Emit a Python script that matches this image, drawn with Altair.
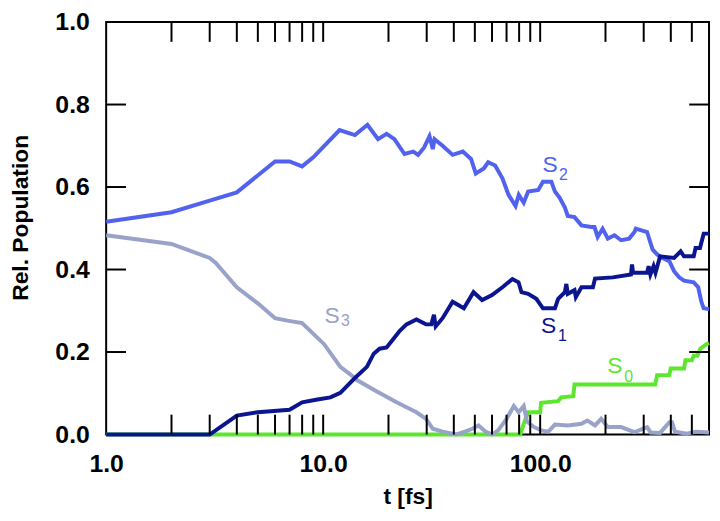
import altair as alt
import pandas as pd

# ---------------- data ----------------
s2_t = [1, 2, 3, 4, 6, 7, 8, 9, 11.9, 14, 16, 17.9, 19.6, 21.3, 23.7, 26, 27.4, 29.2,
        30.9, 32, 32.6, 35.5, 39.5, 44, 48, 50.5, 55, 57.6, 62, 67, 71.5, 77, 79.7, 84,
        88, 98, 103, 112.6, 117, 123, 130, 134, 144, 155, 172, 178, 184, 194, 205, 220,
        236, 257, 272, 276, 311, 323, 330, 347, 366, 394, 414, 437, 460, 510, 535, 553,
        567, 600]
s2_v = [0.516, 0.539, 0.567, 0.587, 0.662, 0.662, 0.650, 0.672, 0.738, 0.726, 0.751,
        0.716, 0.729, 0.716, 0.680, 0.686, 0.678, 0.696, 0.723, 0.692, 0.716, 0.700,
        0.678, 0.686, 0.668, 0.633, 0.645, 0.660, 0.652, 0.621, 0.581, 0.554, 0.581,
        0.562, 0.589, 0.593, 0.613, 0.613, 0.589, 0.574, 0.550, 0.530, 0.527, 0.507,
        0.503, 0.503, 0.479, 0.499, 0.475, 0.483, 0.471, 0.475, 0.491, 0.499, 0.491,
        0.463, 0.448, 0.436, 0.428, 0.420, 0.396, 0.381, 0.373, 0.369, 0.357, 0.322,
        0.306, 0.304]

s1_t = [1, 3, 4, 5, 7, 8, 9.4, 10.8, 12, 14, 15.9, 17.1, 18.2, 19.6, 21.1, 22.5, 24.2,
        26.9, 29.8, 31.5, 32.4, 33, 35.5, 39.5, 44.5, 49.3, 54, 60, 67, 74.5, 79.5, 82,
        88, 96, 103, 117, 121, 130, 132, 134, 144, 146, 155, 175, 179, 216, 262, 265,
        268, 311, 316, 322, 333, 340, 357, 414, 444, 460, 510, 520, 545, 567, 600]
s1_v = [0, 0, 0.046, 0.054, 0.060, 0.078, 0.085, 0.090, 0.101, 0.137, 0.164, 0.196,
        0.208, 0.211, 0.232, 0.251, 0.267, 0.279, 0.267, 0.267, 0.290, 0.262, 0.282,
        0.322, 0.306, 0.345, 0.326, 0.338, 0.357, 0.377, 0.369, 0.345, 0.341, 0.329,
        0.306, 0.306, 0.329, 0.345, 0.365, 0.341, 0.350, 0.333, 0.357, 0.357, 0.378,
        0.381, 0.388, 0.412, 0.392, 0.392, 0.408, 0.388, 0.408, 0.392, 0.432, 0.428,
        0.444, 0.432, 0.432, 0.452, 0.452, 0.487, 0.487]

s3_t = [1, 2, 3, 3.2, 4, 5, 6, 6.85, 8, 10.1, 12, 14, 14.3, 17.6, 21.8, 24.2, 26.9,
        29.8, 32, 35.5, 41, 45, 48.7, 52, 56, 60, 64, 70, 75.6, 79.6, 84, 87, 93, 101,
        109, 117, 134, 155, 165, 179, 191, 205, 236, 272, 311, 323, 357, 394, 405, 418,
        475, 520, 600]
s3_v = [0.483, 0.462, 0.428, 0.416, 0.357, 0.318, 0.282, 0.276, 0.270, 0.219, 0.164,
        0.137, 0.132, 0.105, 0.078, 0.066, 0.054, 0.038, 0.014, 0.007, 0.0, 0.007,
        0.014, 0.022, 0.007, 0.0, 0.010, 0.038, 0.069, 0.054, 0.069, 0.031, 0.019,
        0.010, 0.007, 0.024, 0.022, 0.026, 0.034, 0.022, 0.038, 0.018, 0.018, 0.006,
        0.018, 0.005, 0.004, 0.030, 0.030, 0.007, 0.002, 0.007, 0.005]

s0_t = [1, 81, 84, 88, 100, 101, 121, 125, 142, 144, 339, 346, 393, 400, 460, 467, 500,
        510, 530, 547, 584, 600]
s0_v = [0, 0, 0.026, 0.054, 0.054, 0.077, 0.081, 0.090, 0.093, 0.121, 0.121, 0.144,
        0.144, 0.160, 0.160, 0.180, 0.180, 0.191, 0.191, 0.208, 0.219, 0.222]

series_names = ["S2", "S0", "S3", "S1"]
series_colors = ["#5062ee", "#5ce62e", "#99a2c9", "#0b1590"]

label_main = ["S", "S", "S", "S"]
label_sub = ["2", "1", "3", "0"]
label_series = ["S2", "S1", "S3", "S0"]
label_main_t = [111, 109.4, 11.0, 221]
label_main_v = [0.636, 0.246, 0.270, 0.149]
label_sub_t = [128, 126.7, 12.67, 256]
label_sub_v = [0.617, 0.227, 0.262, 0.128]

x_minor_ticks = [2, 3, 4, 5, 6, 7, 8, 9, 10, 20, 30, 40, 50, 60, 70, 80, 90, 100,
                 200, 300, 400, 500]
y_minor_ticks = [0.2, 0.4, 0.6, 0.8]
x_label_values = [1, 10, 100]
y_label_values = [0, 0.2, 0.4, 0.6, 0.8, 1.0]

W, H = 608, 416
TICK = 20
FONT = "Liberation Sans"

xscale = alt.Scale(type="log", domain=[1, 600], nice=False)
yscale = alt.Scale(domain=[0, 1], nice=False, zero=False)
cscale = alt.Scale(domain=series_names, range=series_colors)

x_axis = alt.Axis(values=x_label_values, format=".1f", ticks=False, domain=False,
                  grid=False, labelFlush=False, labelFontSize=25, labelFontWeight="bold",
                  labelColor="black", labelPadding=17, labelFont=FONT,
                  title="t [fs]", titleFontSize=23, titleFontWeight="bold",
                  titleColor="black", titleFont=FONT, titlePadding=10)
y_axis = alt.Axis(values=y_label_values, format=".1f", ticks=False, domain=False,
                  grid=False, labelFlush=False, labelFontSize=25, labelFontWeight="bold",
                  labelColor="black", labelPadding=17, labelFont=FONT,
                  title="Rel. Population", titleFontSize=23, titleFontWeight="bold",
                  titleColor="black", titleFont=FONT, titleX=-74, titleY=197)

X = lambda f: alt.X(f, scale=xscale, axis=x_axis)
Y = lambda f: alt.Y(f, scale=yscale, axis=y_axis)


def line_layer(name, ts, vs):
    df = pd.DataFrame({"t": ts, "v": vs, "series": name})
    return alt.Chart(df).mark_line(strokeWidth=4, clip=False).encode(
        x=X("t:Q"), y=Y("v:Q"),
        color=alt.Color("series:N", scale=cscale, legend=None),
    )


l_s2 = line_layer("S2", s2_t, s2_v)
l_s0 = line_layer("S0", s0_t, s0_v)
l_s3 = line_layer("S3", s3_t, s3_v)
l_s1 = line_layer("S1", s1_t, s1_v)

xt = pd.DataFrame({"t": x_minor_ticks})
yt = pd.DataFrame({"v": y_minor_ticks})
tick_style = dict(color="black", strokeWidth=2)
bottom_ticks = alt.Chart(xt).mark_rule(**tick_style).encode(
    x=X("t:Q"), y=alt.value(H), y2=alt.value(H - TICK))
top_ticks = alt.Chart(xt).mark_rule(**tick_style).encode(
    x=X("t:Q"), y=alt.value(0), y2=alt.value(TICK))
left_ticks = alt.Chart(yt).mark_rule(**tick_style).encode(
    y=Y("v:Q"), x=alt.value(0), x2=alt.value(TICK))
right_ticks = alt.Chart(yt).mark_rule(**tick_style).encode(
    y=Y("v:Q"), x=alt.value(W), x2=alt.value(W - TICK))

lab_main = pd.DataFrame({"t": label_main_t, "v": label_main_v, "txt": label_main,
                         "series": label_series})
lab_sub = pd.DataFrame({"t": label_sub_t, "v": label_sub_v, "txt": label_sub,
                        "series": label_series})
text_main = alt.Chart(lab_main).mark_text(fontSize=23, font=FONT, align="center",
                                          baseline="alphabetic").encode(
    x=X("t:Q"), y=Y("v:Q"),
    text="txt:N", color=alt.Color("series:N", scale=cscale, legend=None))
text_sub = alt.Chart(lab_sub).mark_text(fontSize=16, font=FONT, align="center",
                                        baseline="alphabetic").encode(
    x=X("t:Q"), y=Y("v:Q"),
    text="txt:N", color=alt.Color("series:N", scale=cscale, legend=None))

chart = alt.layer(
    l_s2, l_s0, l_s3, l_s1,
    bottom_ticks, top_ticks, left_ticks, right_ticks,
    text_main, text_sub,
).properties(
    width=W, height=H,
    background="white",
    autosize=alt.AutoSizeParams(type="none"),
    padding={"left": 99, "top": 12, "right": 3, "bottom": 77},
).configure_view(
    stroke="black", strokeWidth=2
)

chart.save("out.html", embed_options={"renderer": "svg", "actions": False})
